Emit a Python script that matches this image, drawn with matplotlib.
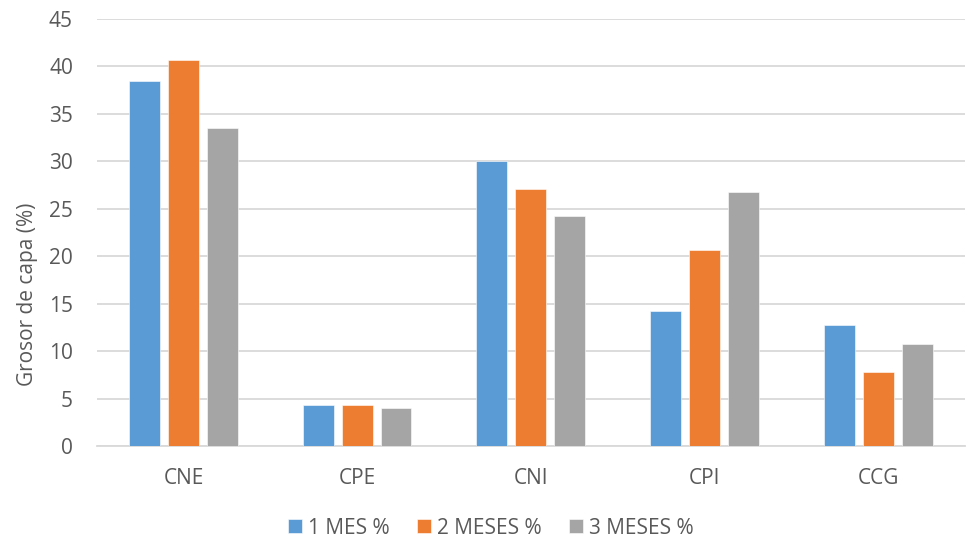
import matplotlib
matplotlib.use("Agg")
import matplotlib.pyplot as plt
import numpy as np

categories = ["CNE", "CPE", "CNI", "CPI", "CCG"]
series_names = ["1 MES %", "2 MESES %", "3 MESES %"]
mes1 = [38.5, 4.3, 30.0, 14.2, 12.8]
mes2 = [40.7, 4.3, 27.1, 20.7, 7.8]
mes3 = [33.5, 4.0, 24.2, 26.8, 10.7]
colors = ["#5B9BD5", "#ED7D31", "#A5A5A5"]
yticks = [0, 5, 10, 15, 20, 25, 30, 35, 40, 45]

plt.rcParams["font.family"] = ["Open Sans", "DejaVu Sans"]
text_color = "#595959"

fig = plt.figure(figsize=(9.66, 5.39), dpi=100)
ax = fig.add_axes([0.100, 0.1725, 0.899, 0.7922])

x = np.arange(len(categories))
width = 0.178
step = 0.224
for i, (vals, name, col) in enumerate(zip([mes1, mes2, mes3], series_names, colors)):
    ax.bar(x + (i - 1) * step, vals, width=width, color=col, label=name,
           zorder=3, edgecolor="white", linewidth=0.4)

ax.set_xlim(-0.5, len(categories) - 0.5)
ax.set_ylim(0, 45)
ax.set_yticks(yticks)
ax.set_xticks(x)
ax.set_xticklabels(categories)
ax.grid(axis="y", color="#D9D9D9", linewidth=1.3, zorder=0)
ax.set_axisbelow(True)
for s in ["top", "right", "left"]:
    ax.spines[s].set_visible(False)
ax.spines["bottom"].set_color("#D9D9D9")
ax.spines["bottom"].set_linewidth(1.3)
ax.tick_params(axis="both", length=0, labelsize=15, colors=text_color)
ax.tick_params(axis="y", pad=17)
ax.tick_params(axis="x", pad=16)
ax.set_ylabel("Grosor de capa (%)", fontsize=15, color=text_color)
ax.yaxis.set_label_coords(-0.068, 0.355)

leg = fig.legend(loc="lower center", bbox_to_anchor=(0.508, -0.034), ncol=3,
                 frameon=False, fontsize=15, handlelength=0.67, handleheight=0.67,
                 handletextpad=0.3, columnspacing=1.3)
for t in leg.get_texts():
    t.set_color(text_color)

fig.savefig("out.png", dpi=100)
